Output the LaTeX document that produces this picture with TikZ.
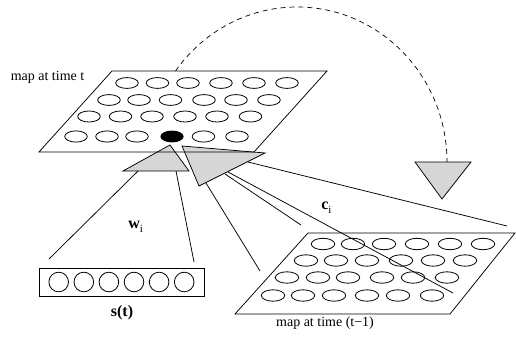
\documentclass[tikz,border=0pt]{standalone}
\usepackage{fontspec}
\setmainfont{Liberation Serif}
\begin{document}
\begin{tikzpicture}[x=1pt,y=-1pt,line width=0.75pt,
  cellline/.style={line width=0.8pt},
  tri/.style={draw,fill=black!16,line join=miter},
  lbl/.style={font=\fontsize{14}{17}\selectfont,inner sep=0pt},
  blbl/.style={font=\fontsize{16}{18}\selectfont\bfseries,inner sep=0pt},
  conn/.style={line width=0.75pt},
  arcline/.style={dashed,dash pattern=on 5pt off 4pt,line width=0.7pt}]
\useasboundingbox (0,0) rectangle (516,342);

% triangles (drawn first, maps over them)
\coordinate (lA) at (170,145);
\coordinate (lB) at (123,171);
\coordinate (lC) at (189,171);
\draw[tri] (lA) -- (lB) -- (lC) -- cycle;
\coordinate (rA) at (182,146);
\coordinate (rB) at (265,153);
\coordinate (rC) at (199,186);
\draw[tri] (rA) -- (rB) -- (rC) -- cycle;
\coordinate (fA) at (415,162);
\coordinate (fB) at (471,162);
\coordinate (fC) at (442,199);
\draw[tri] (fA) -- (fB) -- (fC) -- cycle;

% top map
\coordinate (tTL) at (112,71);
\coordinate (tTR) at (327,71);
\coordinate (tBR) at (254,152);
\coordinate (tBL) at (39,152);
\draw (tTL) -- (tTR) -- (tBR) -- (tBL) -- cycle;
\foreach \x in {127,157.5,188,221,254,287} \draw[cellline] (\x,83) ellipse[x radius=11.3pt,y radius=5.4pt];
\foreach \x in {109,139,170.5,204,236,269} \draw[cellline] (\x,100) ellipse[x radius=11.3pt,y radius=5.4pt];
\foreach \x in {89,120.5,152,185,217,250.5} \draw[cellline] (\x,116.5) ellipse[x radius=11.3pt,y radius=5.5pt];
\foreach \x in {76,107,137,203.5,237} \draw[cellline] (\x,136.5) ellipse[x radius=11.3pt,y radius=5.6pt];
\fill (172,136.5) ellipse[x radius=11.6pt,y radius=5.9pt];

% bottom map
\coordinate (bTL) at (308,233);
\coordinate (bTR) at (515,233);
\coordinate (bBR) at (450,314);
\coordinate (bBL) at (235,314);
\draw (bTL) -- (bTR) -- (bBR) -- (bBL) -- cycle;
\foreach \x in {323,353,384,417,450,483} \draw[cellline] (\x,244) ellipse[x radius=11.7pt,y radius=5.7pt];
\foreach \x in {306,336,367,401,433,465} \draw[cellline] (\x,260.5) ellipse[x radius=11.7pt,y radius=5.7pt];
\foreach \x in {287,318,348,382,413,447} \draw[cellline] (\x,277.5) ellipse[x radius=11.7pt,y radius=5.7pt];
\foreach \x in {273,303,334,367,398,432} \draw[cellline] (\x,295.5) ellipse[x radius=11.7pt,y radius=5.7pt];

% input vector s(t)
\coordinate (sTL) at (39,268);
\coordinate (sBR) at (204,296);
\draw (sTL) rectangle (sBR);
\foreach \i in {0,...,5} \draw[cellline] (58.7+25.1*\i,282) circle[radius=9.8pt];

% connectors from left triangle to s(t)
\coordinate (l1s) at (138,171);
\coordinate (l1e) at (49,259);
\coordinate (l2s) at (176,171);
\coordinate (l2e) at (194,262);
\draw[conn] (l1s) -- (l1e);
\draw[conn] (l2s) -- (l2e);

% connectors from right triangle to previous map
\coordinate (aS) at (206,183);
\coordinate (aE) at (260,271);
\coordinate (bS) at (225,174);
\coordinate (bE) at (301,225);
\coordinate (cS) at (228,172);
\coordinate (cE) at (453,293);
\coordinate (dS) at (248,162);
\coordinate (dE) at (507,226);
\draw[conn] (aS) -- (aE);
\draw[conn] (bS) -- (bE);
\draw[conn] (cS) -- (cE);
\draw[conn] (dS) -- (dE);

% dashed feedback arc
\coordinate (arcS) at (175.6,70.9);
\coordinate (arcT) at (297,7);
\coordinate (arcE) at (447,162);
\draw[arcline] (arcS) .. controls (203.8,30.7) and (249,7) .. (arcT)
  .. controls (379.8,7) and (447,76.4) .. (arcE);

% labels
\node[lbl] (lt) at (47.5,77) {map at time t};
\node[lbl] (lb) at (325,323) {map at time (t−1)};
\node[blbl] (st) at (122,313) {s(t)};
\node[blbl,anchor=base west] (wi) at (128,228) {w\raisebox{-4pt}{\fontsize{11}{12}\selectfont\mdseries i}};
\node[blbl,anchor=base west] (ci) at (321,209) {c\raisebox{-4pt}{\fontsize{11}{12}\selectfont\mdseries i}};
\end{tikzpicture}
\end{document}
